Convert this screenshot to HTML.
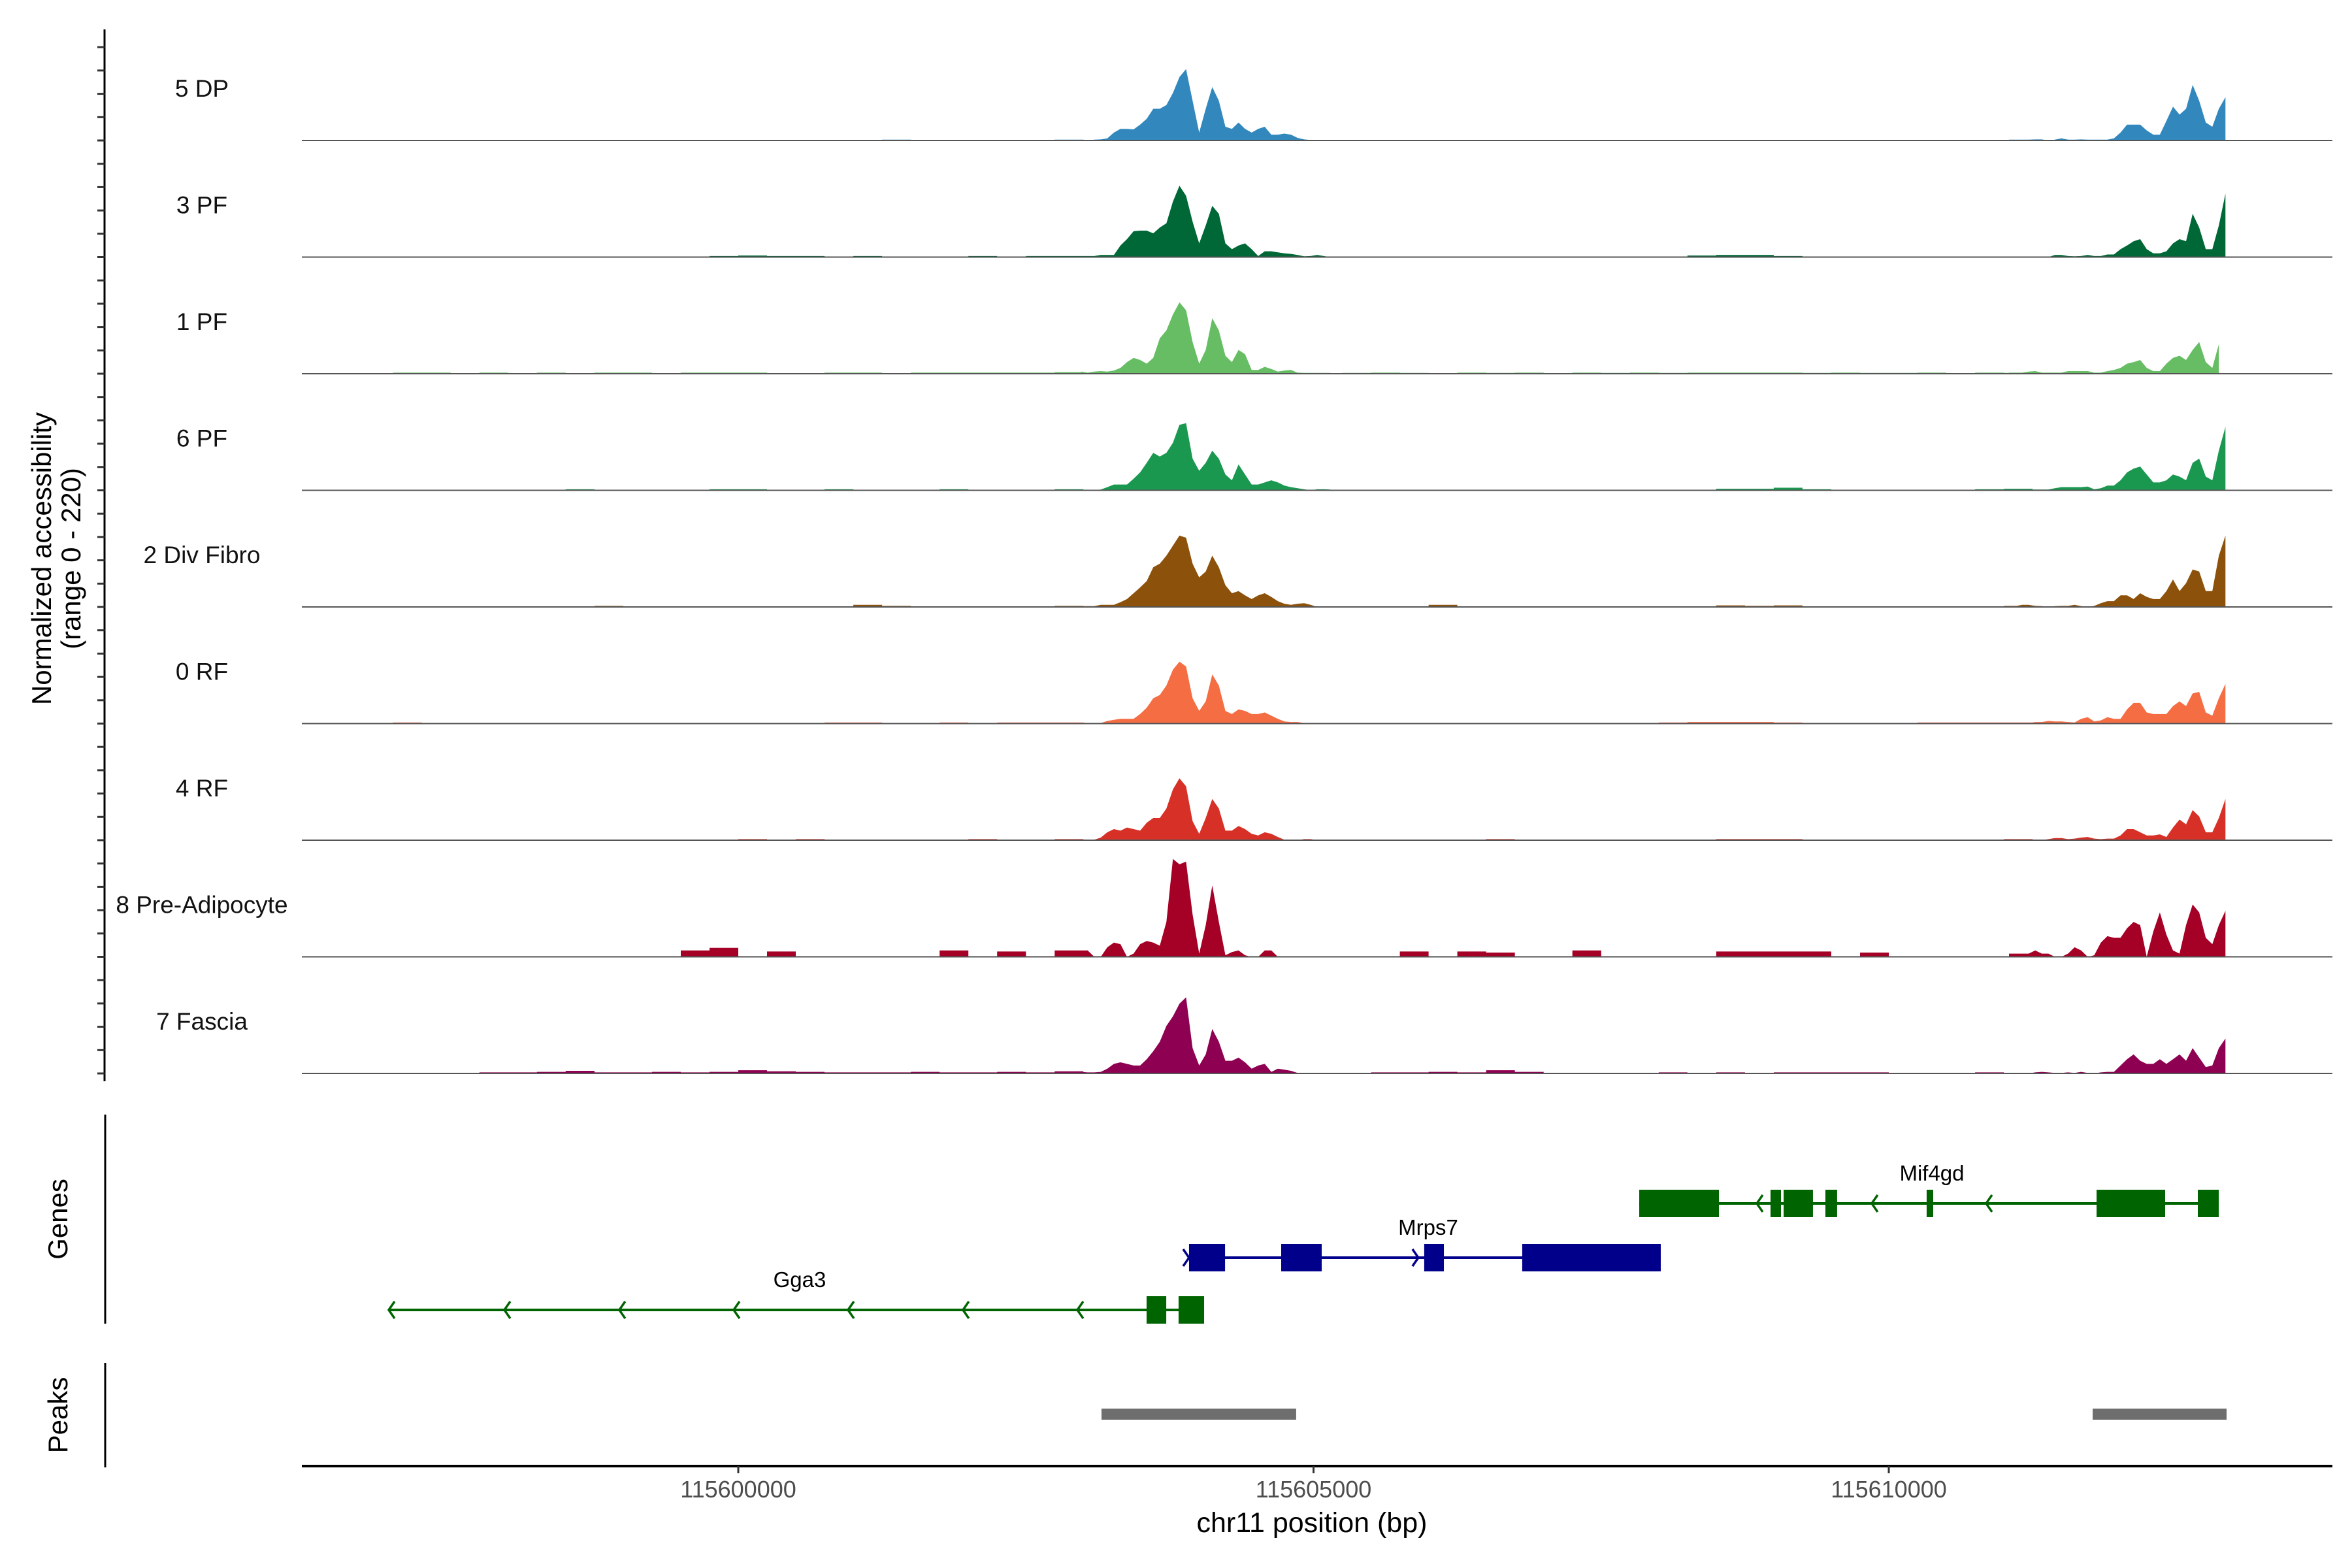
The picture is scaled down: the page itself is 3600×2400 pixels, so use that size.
<!DOCTYPE html>
<html><head><meta charset="utf-8"><style>
html,body{margin:0;padding:0;background:#fff;}
svg{display:block;font-family:"Liberation Sans",Arial,sans-serif;}
</style></head><body>
<svg id="chart" width="3600" height="2400" viewBox="0 0 3600 2400" xmlns="http://www.w3.org/2000/svg">
<rect width="3600" height="2400" fill="#fff"/>
<g id="tracks"></g>
<g id="genes"></g>
<g id="peaks"></g>
<g id="axes"></g>
</svg>
<script>
// ---- data ----
const trackNames = ["5 DP","3 PF","1 PF","6 PF","2 Div Fibro","0 RF","4 RF","8 Pre-Adipocyte","7 Fascia"];
const trackColors = ["#3288bd","#006837","#66bd63","#1a9850","#8c510a","#f46d43","#d73027","#a50026","#8e0152"];
const posBgLeft = [115597000,115597250,115597500,115597750,115598000,115598250,115598500,115598750,115599000,115599250,115599500,115599750,115600000,115600250,115600500,115600750,115601000,115601250,115601500,115601750,115602000,115602250,115602500,115602750];
const posMain = [115602980,115603037,115603094,115603151,115603208,115603265,115603322,115603379,115603436,115603493,115603550,115603607,115603664,115603721,115603778,115603835,115603892,115603949,115604006,115604063,115604120,115604177,115604234,115604291,115604348,115604405,115604462,115604519,115604576,115604633,115604690,115604747,115604804,115604861,115604918,115604975,115605032,115605089,115605146];
const posBgRight = [115605250,115605500,115605750,115606000,115606250,115606500,115606750,115607000,115607250,115607500,115607750,115608000,115608250,115608500,115608750,115609000,115609250,115609500,115609750,115610000,115610250,115610500,115610750,115611000];
const posRight = [115611045,115611102,115611159,115611216,115611273,115611330,115611387,115611444,115611501,115611558,115611615,115611672,115611729,115611786,115611843,115611900,115611957,115612014,115612071,115612128,115612185,115612242,115612299,115612356,115612413,115612470,115612527,115612584,115612641,115612698,115612755,115612812,115612869,115612926];

const dp5_bgL=[0,0,0.5,0.5,0,0.5,0.5,0,0.5,0.5,0,0.5,0.5,0.5,1,0.5,1,1.5,0.5,1,1,0.5,1,1.5];
const dp5_main=[0,0,1.5,2,4,15,22,22,21,30,41,60,60,67,90,120,135,75,15,60,101,75,26,22,34,22,15,22,26,11,11,13,11,5,2,1,0,0,0];
const dp5_bgR=[0.5,0,0.5,0.5,0,0.5,0.5,0.5,0,0.5,0.5,0.5,1,0.5,1,0.5,1,0.5,0.5,1,0.5,1,0.5,0.5];
const dp5_right=[1.5,1.5,1.5,1.5,2,2,0,1.5,4,1.5,1.5,2,1.5,1.5,1.5,1.5,4,15,30,30,30,19,11,11,37,64,49,60,105,75,34,26,60,82];

const pf3_bgL=[0,0,0,0,0,0,0,0,0,0,1,2,3,2,2,1,2,1,1,1,2,1,2,2];
const pf3_main=[2,2,2,4,4,4,22,34,49,50,50,45,56,64,105,135,116,67,26,60,97,82,26,15,22,26,15,2,11,11,9,7,6,4,1.5,2,4,2,0];
const pf3_bgR=[1,1,0,1,1,1,0,1,1,1,1,1,3,4,4,2,1,1,1,1,1,0,1,0];
const pf3_right=[0,0,0,0,0,0,0,4,4,2,1.5,2,4,2,2,5,5,15,22,30,34,15,7,7,11,26,34,30,82,56,15,15,60,120];

const pf1_bgL=[2,2,1,2,1,2,1,2,2,1,2,2,2,1,1,2,2,1,2,2,2,2,2,3];
const pf1_main=[4,2,4,5,4,6,11,22,30,26,19,30,67,82,112,135,120,60,19,45,105,82,34,22,45,37,7,7,13,9,4,6,7,2,1.5,1.5,1.5,1.5,1.5];
const pf1_bgR=[1.5,2,1.5,1,2,1.5,2,1,2,1.5,2,1.5,2,2,2,2,1.5,2,1.5,1.5,2,1,2,1.5];
const pf1_right=[2,2,2,4,5,2,2,2,2,5,5,5,5,2,2,5,7,11,19,22,26,11,5,5,19,30,34,26,45,60,22,11,56,null];

const pf6_bgL=[1,1,1,1,1,1,2,1,1,1,1,2,2,1,1,2,1,1,1,2,1,1,1,2];
const pf6_main=[0,0,0,1.5,6,11,11,11,22,34,52,71,64,71,90,124,127,60,37,52,75,60,30,19,49,30,11,11,15,19,15,9,6,4,2,0,2,2,1.5];
const pf6_bgR=[1,1,1,1,1,1,1,1,1,1,1,1,1,3,3,5,2,1,1,1,1,1,2,3];
const pf6_right=[0,0,1.5,1.5,1.5,1.5,1.5,4,6,6,6,6,7,2,4,9,9,19,34,41,45,30,15,15,19,30,26,19,52,60,26,19,75,120];

const div2_bgL=[0,1,1,1,1,1,1,2,1,1,1,1,1,1,1,1,4,2,1,1,1,1,1,2];
const div2_main=[1.5,1.5,1.5,4,4,4,9,15,26,37,49,75,82,97,116,135,131,82,56,67,97,75,41,26,30,22,15,22,26,19,11,6,4,6,7,4,0,0,0];
const div2_bgR=[1,1,1,4,1,1,1,1,0,1,1,1,1,3,2,3,1,1,1,1,1,0,1,2];
const div2_right=[1.5,1.5,4,4,2,1.5,0,1.5,2,2,4,1.5,0,2,7,11,11,22,22,15,26,19,15,15,30,52,30,45,71,67,30,30,97,135];

const rf0_bgL=[2,0,0,1,0,0,1,0,0,0,1,0,1,0,0,2,2,1,1,2,1,2,2,2];
const rf0_main=[2,1,0,1,5,7,9,9,9,18,30,48,54,72,102,117,108,48,24,42,93,72,24,18,27,24,18,18,21,15,9,4,3,3,1,0,0,0,0];
const rf0_bgR=[0,0,1,1,0,1,0,1,0,0,1,2,3,3,3,2,0,1,0,1,2,2,2,2];
const rf0_right=[1,1,1,1,3,3,5,4,4,3,2,9,12,4,6,12,9,9,27,39,39,21,18,18,18,33,42,33,57,60,21,15,48,75];

const rf4_bgL=[0,0,1,1,1,0,0,1,0,0,0,1,2,1,2,1,1,1,1,1,2,1,1,2];
const rf4_main=[1,1,1,5,15,21,18,24,21,18,33,42,42,60,96,117,102,36,12,42,78,60,18,18,27,21,12,9,15,12,6,1,1,0,2,2,0,1,0];
const rf4_bgR=[1,1,1,1,1,2,1,1,0,1,1,1,1,2,2,2,1,1,1,1,1,1,1,2];
const rf4_right=[0,0,0,2,1,0,2,4,4,2,3,5,6,3,2,3,3,9,21,21,15,9,9,11,6,24,39,30,57,45,15,15,42,78];

const pre8_bgL=[0,0,0,0,0,0,0,0,0,0,12,17,0,10,0,0,0,0,0,12,0,10,0,12];
const pre8_main=[12,12,0,0,18,27,24,0,6,24,30,27,21,66,185,175,180,80,6,60,135,66,3,9,12,3,0,0,12,12,0,0,0,0,0,0,0,0,0];
const pre8_bgR=[0,0,10,0,10,8,0,0,12,0,0,0,0,10,10,10,10,0,8,0,0,0,0,0];
const pre8_right=[6,6,6,6,12,6,6,0,0,6,18,12,0,3,27,39,36,36,54,66,60,0,48,84,42,12,6,60,99,84,36,24,60,87];

const fas7_bgL=[1,1,1,2,2,3,5,2,2,3,2,3,6,4,3,2,2,2,3,2,2,3,2,4];
const fas7_main=[3,2,2,3,9,18,21,18,15,15,27,42,60,90,108,132,144,48,15,36,84,60,24,24,30,21,9,15,18,3,9,7,5,1,1,1,1,1,0];
const fas7_bgR=[1,2,2,3,2,6,3,1,1,1,1,2,1,2,1,2,2,2,2,1,1,1,2,1];
const fas7_right=[0,0,0,0,2,3,2,1,1,2,1,3,1,0,2,3,3,15,27,36,24,18,18,27,18,27,36,24,48,30,12,15,48,66];

const trackSeries = [
 [dp5_bgL,dp5_main,dp5_bgR,dp5_right],[pf3_bgL,pf3_main,pf3_bgR,pf3_right],[pf1_bgL,pf1_main,pf1_bgR,pf1_right],
 [pf6_bgL,pf6_main,pf6_bgR,pf6_right],[div2_bgL,div2_main,div2_bgR,div2_right],[rf0_bgL,rf0_main,rf0_bgR,rf0_right],
 [rf4_bgL,rf4_main,rf4_bgR,rf4_right],[pre8_bgL,pre8_main,pre8_bgR,pre8_right],[fas7_bgL,fas7_main,fas7_bgR,fas7_right]];
const posGroups = [posBgLeft,posMain,posBgRight,posRight];

const xTicks = [115600000,115605000,115610000];
const xTickLabels = ["115600000","115605000","115610000"];

const geneNames = ["Gga3","Mrps7","Mif4gd"];
const geneStart = [115596962,115603918,115607831];
const geneEnd = [115604049,115608018,115612868];
const geneStrand = [-1,1,-1];
const geneColors = ["#006400","#00008b","#006400"];
const geneExons = [
 [[115603549,115603720],[115603827,115604049]],
 [[115603918,115604231],[115604719,115605071],[115605962,115606133],[115606814,115608018]],
 [[115607831,115608524],[115608972,115609063],[115609086,115609341],[115609449,115609551],[115610329,115610386],[115611806,115612402],[115612686,115612868]]];
const geneArrows = [
 [115596962,115597967,115598966,115599960,115600954,115601953,115602947],
 [115603918,115605911],
 [115608853,115609852,115610846]];
const peakStart = [115603157,115611772];
const peakEnd = [115604849,115612936];

// ---- scales ----
const X0 = 1130, KX = 0.1761;
function xs(bp){ return X0 + (bp - 115600000) * KX; }
const baseY0 = 215, trackStep = 178.5, trackH = 178, yMax = 220;
function ys(v, k){ return baseY0 + k*trackStep - v / yMax * trackH; }

const NS = "http://www.w3.org/2000/svg";
function mk(tag, attrs, parent){ const e = document.createElementNS(NS, tag); for (const a in attrs) e.setAttribute(a, attrs[a]); parent.appendChild(e); return e; }

const gT = document.getElementById('tracks');
trackNames.forEach((nm, k) => {
  const base = baseY0 + k*trackStep;
  const g = mk('g', {}, gT);
  
  
  let d = '';
  posGroups.forEach((pos, gi) => {
    const vals = trackSeries[k][gi];
    const step = gi % 2 === 0; // background groups drawn as blocks
    let open = false, lastX = 0;
    pos.forEach((p, i) => {
      const v = vals[i];
      if (v === null || v === undefined) {
        if (open) { d += `L${lastX.toFixed(1)},${base}Z`; open = false; }
        return;
      }
      const x = xs(p), y = ys(v, k);
      if (step) {
        const x2 = xs(p + 250);
        if (v > 0) d += `M${x.toFixed(1)},${base}L${x.toFixed(1)},${y.toFixed(1)}L${x2.toFixed(1)},${y.toFixed(1)}L${x2.toFixed(1)},${base}Z`;
        return;
      }
      if (!open) { d += `M${x.toFixed(1)},${base}L${x.toFixed(1)},${y.toFixed(1)}`; open = true; }
      else d += `L${x.toFixed(1)},${y.toFixed(1)}`;
      lastX = x;
    });
    if (open) d += `L${lastX.toFixed(1)},${base}Z`;
  });
  const area = mk('path', {d: d, fill: trackColors[k], stroke: 'none'}, g);
  
  
  const bl = mk('line', {x1: 462, x2: 3570, y1: base, y2: base, stroke: '#555', 'stroke-width': 2}, g);
  
  
  const t = mk('text', {x: 309, y: base - 67, 'text-anchor': 'middle', 'font-size': 37, fill: '#111'}, g);
  t.textContent = nm;
  
  
});

// genes
const gG = document.getElementById('genes');
const geneY = [2005, 1925, 1842];
geneNames.forEach((nm, i) => {
  const g = mk('g', {}, gG);
  
  
  const y = geneY[i], c = geneColors[i];
  mk('line', {x1: xs(geneStart[i]), x2: xs(geneEnd[i]), y1: y, y2: y, stroke: c, 'stroke-width': 4}, g);
  geneExons[i].forEach(ex => {
    const r = mk('rect', {x: xs(ex[0]), y: y - 21, width: xs(ex[1]) - xs(ex[0]), height: 42, fill: c}, g);
    
    
  });
  geneArrows[i].forEach(p => {
    const x = xs(p), s = geneStrand[i];
    mk('polyline', {points: `${x - 9*s},${y-13} ${x},${y} ${x - 9*s},${y+13}`, fill: 'none', stroke: c, 'stroke-width': 3.5}, g);
  });
  const lx = [1224, 2186, 2957][i], ly = [1970, 1890, 1807][i];
  const t = mk('text', {x: lx, y: ly, 'text-anchor': 'middle', 'font-size': 33, fill: '#000'}, g);
  t.textContent = nm;
  
  
});

// peaks
const gP = document.getElementById('peaks');
peakStart.forEach((s, i) => {
  const r = mk('rect', {x: xs(s), y: 2156, width: xs(peakEnd[i]) - xs(s), height: 17, fill: '#6e6e6e'}, gP);
  
  
});

// axes
const gA = document.getElementById('axes');
const ax1 = mk('line', {x1: 160, x2: 160, y1: 45, y2: 1655, stroke: '#000', 'stroke-width': 3}, gA);


for (let y = baseY0 - 4*35.7; y <= 1655; y += 35.7) {
  mk('line', {x1: 149, x2: 160, y1: y, y2: y, stroke: '#333', 'stroke-width': 3}, gA);
}
const ax2 = mk('line', {x1: 161, x2: 161, y1: 1706, y2: 2026, stroke: '#000', 'stroke-width': 3}, gA);


const ax3 = mk('line', {x1: 161, x2: 161, y1: 2086, y2: 2246, stroke: '#000', 'stroke-width': 3}, gA);


const ax4 = mk('line', {x1: 462, x2: 3570, y1: 2244, y2: 2244, stroke: '#000', 'stroke-width': 4}, gA);


xTicks.forEach((t, i) => {
  const x = xs(t);
  mk('line', {x1: x, x2: x, y1: 2244, y2: 2255, stroke: '#333', 'stroke-width': 3}, gA);
  const lb = mk('text', {x: x, y: 2292, 'text-anchor': 'middle', 'font-size': 36, fill: '#4d4d4d'}, gA);
  lb.textContent = xTickLabels[i];
  
  
});
const xt = mk('text', {x: 2008, y: 2345, 'text-anchor': 'middle', 'font-size': 43, fill: '#000'}, gA);
xt.textContent = 'chr11 position (bp)';


const yt = mk('text', {transform: 'translate(78,855) rotate(-90)', 'text-anchor': 'middle', 'font-size': 42, fill: '#000'}, gA);


const ts1 = mk('tspan', {x: 0, y: 0}, yt); ts1.textContent = 'Normalized accessibility';
const ts2 = mk('tspan', {x: 0, y: 45}, yt); ts2.textContent = '(range 0 - 220)';
const gl = mk('text', {transform: 'translate(103,1866) rotate(-90)', 'text-anchor': 'middle', 'font-size': 42, fill: '#000'}, gA);
gl.textContent = 'Genes';


const pl = mk('text', {transform: 'translate(103,2166) rotate(-90)', 'text-anchor': 'middle', 'font-size': 42, fill: '#000'}, gA);
pl.textContent = 'Peaks';


</script>
</body></html>
